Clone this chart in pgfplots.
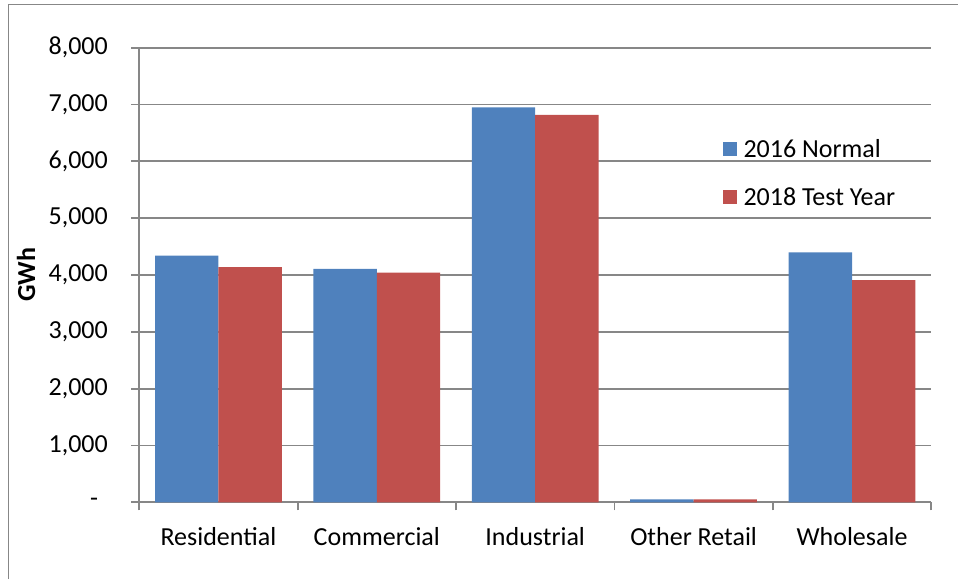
\documentclass[border=0pt]{standalone}
\usepackage{fontspec}
\setmainfont{Carlito}
\usepackage{pgfplots}
\pgfplotsset{compat=1.18}
\definecolor{barblue}{HTML}{4F81BD}
\definecolor{barred}{HTML}{C0504D}
\definecolor{axgray}{HTML}{878787}
\begin{document}
\begin{tikzpicture}
\path[use as bounding box] (0,0) rectangle (479pt,289.5pt);
\draw[axgray, line width=0.6pt] (4.15pt,0) -- (4.15pt,287.2pt) -- (479pt,287.2pt);
\begin{axis}[
  at={(69.6pt,38.35pt)}, anchor=south west,
  scale only axis, width=396pt, height=227.3pt,
  ybar=0pt, bar width=0.4,
  xmin=-0.5, xmax=4.5, ymin=0, ymax=8000,
  axis x line*=bottom, axis y line*=left,
  axis line style={-, draw=axgray, line width=0.9pt},
  tick style={draw=axgray, line width=0.9pt},
  tick align=outside, major tick length=4pt,
  ymajorgrids, grid style={draw=axgray, line width=0.9pt},
  ytick={0,1000,...,8000},
  yticklabels={\makebox[8.9pt][l]{-},{1,000},{2,000},{3,000},{4,000},{5,000},{6,000},{7,000},{8,000}},
  xtick={-0.5,0.5,1.5,2.5,3.5,4.5},
  x tick label as interval,
  xticklabels={Residential,Commercial,Industrial,Other Retail,Wholesale},
  ticklabel style={font=\fontsize{13}{15}\selectfont, text=black},
  yticklabel style={inner sep=0pt, anchor=east, xshift=-11.5pt},
  xticklabel style={inner sep=0pt, anchor=base, yshift=-17.5pt},
  ylabel={\textbf{GWh}},
  ylabel style={font=\fontsize{13}{15}\selectfont, at={(axis description cs:-0.1427,0.5)}, anchor=center},
  legend style={at={(axis description cs:0.736,0.80)}, anchor=north west, draw=none, fill=none,
    font=\fontsize{13}{15}\selectfont, row sep=14pt, inner sep=0pt,
    nodes={inner sep=0pt}},
  legend cell align=left,
  clip=false,
]
\addplot[fill=barblue, draw=none,
  legend image code/.code={\fill[barblue] (0pt,-3pt) rectangle (7pt,4pt);}]
  coordinates {(0,4340) (1,4110) (2,6950) (3,50) (4,4400)};
\addplot[fill=barred, draw=none,
  legend image code/.code={\fill[barred] (0pt,-3pt) rectangle (7pt,4pt);}]
  coordinates {(0,4140) (1,4040) (2,6820) (3,50) (4,3910)};
\legend{\hspace{3.5pt}2016 Normal,\hspace{3.5pt}2018 Test Year}
\end{axis}
\end{tikzpicture}
\end{document}
